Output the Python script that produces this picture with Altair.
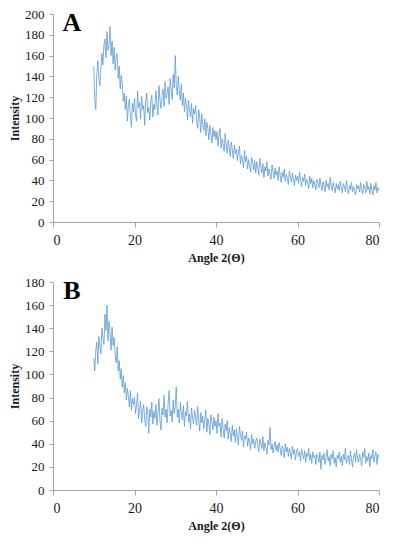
import altair as alt
import pandas as pd

# Sampling grid of the diffractograms (degrees 2θ)
angle_start = 10.0
angle_step = 0.25

intensity_a = [
    150, 118, 108, 142, 155, 138, 131, 147, 162, 151, 170, 176, 158, 183, 165, 171, 188, 160, 174, 152,
    168, 146, 159, 162, 138, 150, 128, 141, 133, 116, 124, 108, 121, 97, 112, 118, 102, 91, 114, 106,
    119, 103, 97, 126, 110, 115, 99, 121, 108, 112, 93, 117, 124, 105, 110, 98, 116, 122, 101, 113,
    108, 126, 114, 103, 131, 117, 109, 122, 128, 111, 135, 119, 124, 130, 113, 138, 127, 118, 142, 129,
    160, 131, 122, 140, 126, 117, 133, 112, 124, 106, 119, 113, 98, 117, 108, 101, 114, 95, 109, 104,
    112, 97, 90, 108, 101, 86, 104, 95, 88, 99, 83, 96, 90, 79, 93, 85, 76, 91, 82, 88,
    79, 87, 73, 84, 90, 71, 80, 76, 68, 85, 74, 66, 79, 72, 63, 77, 69, 61, 74, 66,
    70, 59, 67, 73, 56, 64, 60, 52, 69, 58, 63, 51, 60, 55, 48, 62, 57, 50, 59, 47,
    58, 52, 45, 61, 54, 47, 56, 43, 53, 49, 58, 44, 51, 46, 41, 55, 48, 42, 52, 45,
    49, 40, 53, 45, 38, 48, 43, 51, 39, 46, 42, 36, 49, 44, 38, 47, 41, 35, 45, 40,
    44, 37, 48, 40, 34, 43, 39, 46, 35, 41, 38, 32, 44, 37, 42, 33, 40, 36, 31, 41,
    38, 33, 42, 36, 30, 39, 35, 29, 40, 34, 37, 31, 43, 35, 30, 38, 33, 28, 37, 32,
    36, 30, 39, 33, 28, 37, 34, 29, 40, 32, 27, 35, 31, 38, 29, 34, 30, 26, 36, 32,
    35, 29, 38, 31, 27, 36, 33, 28, 39, 31, 34, 27, 37, 30, 26, 35, 31, 38, 28, 33,
    30,
]

intensity_b = [
    114, 103, 121, 128, 109, 133, 124, 118, 140, 131, 126, 152, 138, 160, 129, 146, 137, 121, 141, 125,
    132, 117, 110, 124, 103, 112, 96, 105, 89, 99, 84, 93, 78, 88, 81, 72, 86, 69, 79, 74,
    80, 66, 73, 84, 62, 71, 77, 58, 69, 74, 61, 55, 72, 66, 49, 70, 63, 76, 57, 68,
    62, 74, 56, 67, 79, 60, 52, 71, 65, 82, 63, 70, 58, 75, 86, 64, 69, 59, 78, 66,
    72, 89, 63, 70, 58, 76, 67, 61, 73, 55, 68, 64, 77, 59, 66, 53, 71, 62, 57, 69,
    63, 56, 72, 60, 51, 67, 58, 64, 53, 61, 69, 50, 62, 57, 48, 65, 59, 52, 63, 55,
    60, 49, 66, 55, 58, 46, 62, 53, 45, 57, 51, 60, 44, 54, 49, 42, 56, 47, 52, 41,
    53, 46, 39, 55, 48, 43, 51, 37, 47, 44, 50, 38, 45, 41, 35, 48, 40, 44, 36, 42,
    45, 38, 33, 44, 40, 36, 46, 34, 41, 37, 31, 43, 39, 54, 35, 40, 32, 38, 42, 34,
    39, 33, 41, 36, 30, 38, 35, 28, 40, 33, 37, 29, 36, 32, 27, 38, 31, 35, 26, 33,
    36, 29, 33, 25, 35, 31, 27, 34, 24, 32, 29, 36, 26, 31, 23, 33, 28, 30, 22, 31,
    29, 24, 33, 18, 30, 26, 32, 22, 28, 35, 25, 29, 21, 31, 27, 34, 23, 28, 20, 30,
    27, 33, 24, 29, 21, 31, 26, 36, 23, 28, 30, 22, 34, 26, 20, 29, 32, 24, 35, 27,
    24, 31, 27, 21, 33, 28, 36, 23, 29, 25, 32, 20, 30, 27, 35, 24, 29, 33, 22, 31,
    28,
]

x_ticks = [0, 20, 40, 60, 80]
y_ticks_a = [0, 20, 40, 60, 80, 100, 120, 140, 160, 180, 200]
y_ticks_b = [0, 20, 40, 60, 80, 100, 120, 140, 160, 180]
panel_labels = ["A", "B"]
x_title = "Angle 2(Θ)"
y_title = "Intensity"

LINE = "#5B9BD5"
AXIS = "#A6A6A6"
FONT = "Liberation Serif, Times New Roman, serif"


def frame(values):
    return pd.DataFrame({
        "angle": [angle_start + angle_step * i for i in range(len(values))],
        "intensity": values,
    })


def panel(values, yticks, letter):
    xaxis = alt.Axis(values=x_ticks, title=x_title, grid=False, tickSize=5,
                     labelPadding=6, titlePadding=5, labelFontSize=14)
    yaxis = alt.Axis(values=yticks, title=y_title, grid=False, tickSize=4,
                     labelPadding=5, titlePadding=3, labelFontSize=13)
    line = alt.Chart(frame(values)).mark_line(color=LINE, strokeWidth=0.8).encode(
        x=alt.X("angle:Q", scale=alt.Scale(domain=[0, 80], nice=False), axis=xaxis),
        y=alt.Y("intensity:Q", scale=alt.Scale(domain=[yticks[0], yticks[-1]], nice=False), axis=yaxis),
    )
    label = alt.Chart(pd.DataFrame({"t": [letter]})).mark_text(
        font=FONT, fontWeight="bold", fontSize=26, color="black", align="center", baseline="middle"
    ).encode(text="t:N", x=alt.value(19), y=alt.value(9))
    return alt.layer(line, label).properties(width=326, height=208)


chart = alt.vconcat(
    panel(intensity_a, y_ticks_a, panel_labels[0]),
    panel(intensity_b, y_ticks_b, panel_labels[1]),
    spacing=13,
).properties(padding={"left": 0, "top": 0, "right": 2, "bottom": 4}).configure_view(
    stroke=None
).configure_axis(
    domainColor=AXIS, tickColor=AXIS, domainWidth=1, tickWidth=1,
    labelFont=FONT, labelColor="#1a1a1a",
    titleFont=FONT, titleFontSize=12, titleFontWeight="bold", titleColor="#1a1a1a",
)

chart.save("out.html", embed_options={"renderer": "svg", "actions": False})
